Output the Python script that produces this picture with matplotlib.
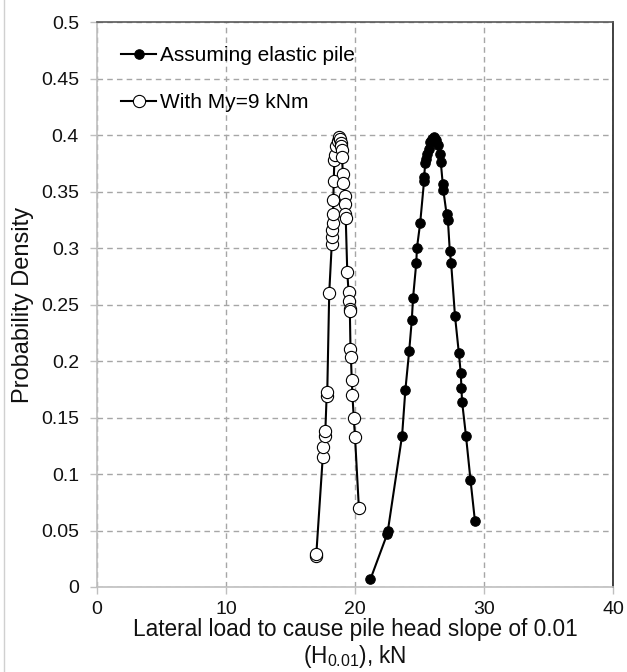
import numpy as np
import matplotlib
matplotlib.use('Agg')
import matplotlib.pyplot as plt
from matplotlib.lines import Line2D

plt.rcParams['font.family'] = ['Liberation Sans', 'DejaVu Sans']

# --- data ---
elastic_x = [21.2, 22.5, 22.55, 23.65, 23.9, 24.2, 24.4, 24.5, 24.75, 24.8,
             25.05, 25.35, 25.35, 25.45, 25.5, 25.6, 25.7, 25.85, 26.0, 26.1,
             26.25, 26.4, 26.55, 26.65, 26.8, 26.85, 27.1, 27.2, 27.35, 27.45,
             27.75, 28.05, 28.2, 28.25, 28.3, 28.6, 28.95, 29.3]
elastic_y = [0.007, 0.047, 0.050, 0.134, 0.174, 0.209, 0.236, 0.256, 0.287, 0.300,
             0.322, 0.359, 0.363, 0.375, 0.379, 0.383, 0.388, 0.394, 0.397, 0.398,
             0.396, 0.391, 0.383, 0.376, 0.357, 0.351, 0.330, 0.325, 0.297, 0.287,
             0.240, 0.207, 0.189, 0.176, 0.164, 0.134, 0.095, 0.058]

my9_x = [16.95, 17.0, 17.5, 17.55, 17.65, 17.7, 17.8, 17.85, 18.0, 18.2,
         18.22, 18.24, 18.26, 18.3, 18.32, 18.35, 18.4, 18.45, 18.55, 18.65,
         18.75, 18.85, 18.9, 18.95, 18.98, 19.0, 19.05, 19.1, 19.2, 19.22,
         19.25, 19.28, 19.4, 19.5, 19.55, 19.58, 19.6, 19.65, 19.68, 19.75,
         19.8, 19.9, 20.0, 20.3]
my9_y = [0.027, 0.029, 0.115, 0.124, 0.134, 0.138, 0.169, 0.173, 0.260, 0.304,
         0.310, 0.316, 0.322, 0.330, 0.343, 0.359, 0.378, 0.382, 0.390, 0.395,
         0.398, 0.397, 0.393, 0.390, 0.387, 0.381, 0.366, 0.358, 0.346, 0.339,
         0.330, 0.327, 0.279, 0.261, 0.253, 0.246, 0.244, 0.211, 0.204, 0.183,
         0.170, 0.150, 0.133, 0.070]

x_ticks = [0, 10, 20, 30, 40]
y_ticks = [0, 0.05, 0.1, 0.15, 0.2, 0.25, 0.3, 0.35, 0.4, 0.45, 0.5]
y_tick_labels = ['0', '0.05', '0.1', '0.15', '0.2', '0.25', '0.3', '0.35', '0.4', '0.45', '0.5']

fig = plt.figure(figsize=(6.27, 6.72), dpi=100)
ax = fig.add_axes([0.1547, 0.1265, 0.823, 0.8405])

ax.plot(elastic_x, elastic_y, '-', color='black', lw=1.5, marker='o', ms=6.8,
        mfc='black', mec='black', mew=0.8, label='Assuming elastic pile', zorder=3)
ax.plot(my9_x, my9_y, '-', color='black', lw=1.5, marker='o', ms=8.8,
        mfc='white', mec='black', mew=0.8, label='With My=9 kNm', zorder=3)

ax.set_xlim(0, 40)
ax.set_ylim(0, 0.5)
ax.set_xticks(x_ticks)
ax.set_yticks(y_ticks)
ax.set_yticklabels(y_tick_labels)
ax.tick_params(axis='both', direction='out', length=5, width=1, color='#bfbfbf',
               labelsize=14, labelcolor='#111111')
ax.tick_params(axis='y', pad=8)
ax.tick_params(axis='x', pad=5)

ax.grid(True, linestyle=(0, (4, 3)), color='#a6a6a6', lw=1)
ax.set_axisbelow(True)

for s in ['left', 'bottom']:
    ax.spines[s].set_color('#bfbfbf')
    ax.spines[s].set_linewidth(1.2)
ax.spines['top'].set_color('#595959')
ax.spines['top'].set_linewidth(1.2)
ax.spines['right'].set_color('#222222')
ax.spines['right'].set_linewidth(1.2)

ax.set_ylabel('Probability Density', fontsize=17, labelpad=5, color='#111111')
ax.set_xlabel('Lateral load to cause pile head slope of 0.01\n'
              r'($\mathregular{H_{0.01}}$), kN', fontsize=16.3, labelpad=0,
              color='#111111', linespacing=1.1)

ax.legend(loc='upper left', bbox_to_anchor=(0.03, 0.972), frameon=False,
          fontsize=15, handlelength=1.7, handletextpad=0.2, labelspacing=1.35,
          borderaxespad=0)

# chart-area border on the left
fig.add_artist(Line2D([0.0065, 0.0065], [0.0, 1.0], color='#d0d0d0', lw=1))

fig.savefig('out.png', dpi=100)
